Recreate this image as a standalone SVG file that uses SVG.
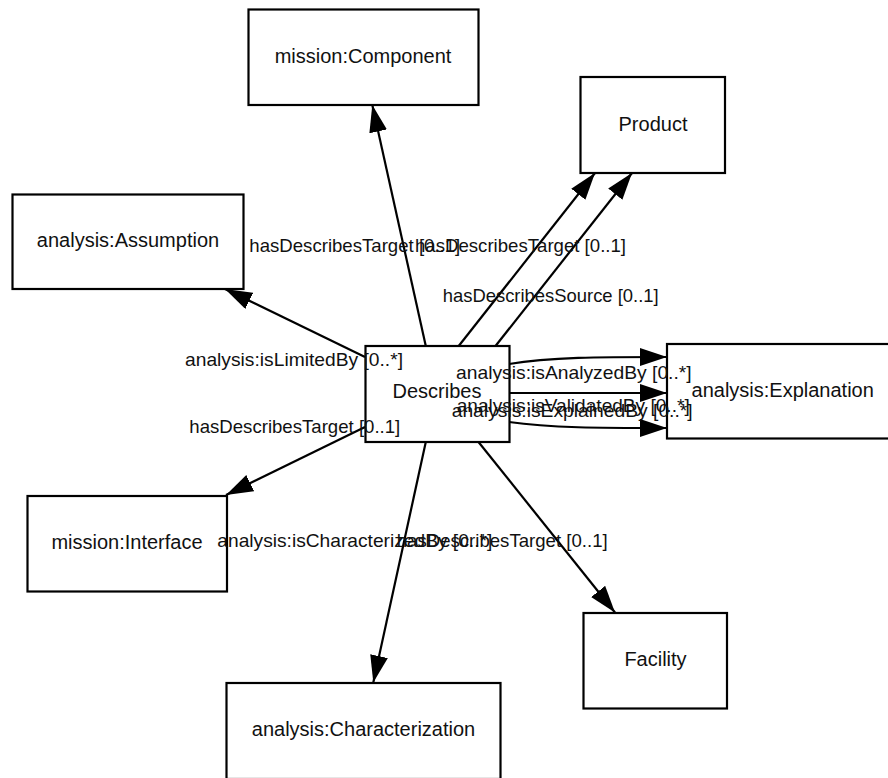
<svg xmlns="http://www.w3.org/2000/svg" width="888" height="778" viewBox="0 0 888 778">
<style>
.box{fill:#fff;stroke:#000;stroke-width:2.2}
.nl{font-family:"Liberation Sans",Arial,sans-serif;font-size:20px;fill:#111;text-anchor:middle}
.el{font-family:"Liberation Sans",Arial,sans-serif;font-size:19px;fill:#111}
.edge{fill:none;stroke:#000;stroke-width:2.2;marker-end:url(#arr)}
</style>
<defs>
<marker id="arr" markerUnits="userSpaceOnUse" viewBox="0 0 27 18" markerWidth="27" markerHeight="18" refX="27" refY="9" orient="auto">
<path d="M0,0 L27,9 L0,18 Z" fill="#000"/>
</marker>
</defs>
<rect width="888" height="778" fill="#fff"/>
<g id="connectors">
<path class="edge" d="M425.8,346 L372.3,105"/>
<path class="edge" d="M458.7,346 L595,173"/>
<path class="edge" d="M495.5,346 L632,173"/>
<path class="edge" d="M365,357 L225,289"/>
<path class="edge" d="M365,427 L226,495"/>
<path class="edge" d="M425.8,442 L373.3,682.5"/>
<path class="edge" d="M478.5,442 L615,612.5"/>
<path class="edge" d="M509,364 C550,357 600,357 667,357"/>
<path class="edge" d="M509,393 L667,393"/>
<path class="edge" d="M509,422 C550,428 600,428 667,428"/>
</g>
<g id="node-component"><rect class="box" x="248.5" y="9.5" width="230" height="95.5"/><text class="nl" x="363" y="62.7">mission:Component</text></g>
<g id="node-product"><rect class="box" x="580.5" y="77" width="144.5" height="96"/><text class="nl" x="653" y="130.5">Product</text></g>
<g id="node-assumption"><rect class="box" x="12.5" y="194.5" width="231" height="94.5"/><text class="nl" x="128" y="247">analysis:Assumption</text></g>
<g id="node-describes"><rect class="box" x="365.5" y="346" width="144" height="96"/><text class="nl" x="437" y="398.3">Describes</text></g>
<g id="node-explanation"><rect class="box" x="667" y="344" width="232" height="94.5"/><text class="nl" x="782.7" y="396.7">analysis:Explanation</text></g>
<g id="node-interface"><rect class="box" x="27.5" y="496" width="199.5" height="95.5"/><text class="nl" x="127" y="549">mission:Interface</text></g>
<g id="node-facility"><rect class="box" x="583.5" y="613" width="143.5" height="95.5"/><text class="nl" x="655.5" y="666">Facility</text></g>
<g id="node-characterization"><rect class="box" x="226.5" y="683" width="274" height="96"/><text class="nl" x="363.5" y="736">analysis:Characterization</text></g>
<g id="edge-labels">
<text class="el" x="249.3" y="252" textLength="211" lengthAdjust="spacingAndGlyphs">hasDescribesTarget [0..1]</text>
<text class="el" x="415" y="252" textLength="211" lengthAdjust="spacingAndGlyphs">hasDescribesTarget [0..1]</text>
<text class="el" x="442.7" y="301.7" textLength="216" lengthAdjust="spacingAndGlyphs">hasDescribesSource [0..1]</text>
<text class="el" x="185" y="365.7" textLength="218" lengthAdjust="spacingAndGlyphs">analysis:isLimitedBy [0..*]</text>
<text class="el" x="189.3" y="433" textLength="211" lengthAdjust="spacingAndGlyphs">hasDescribesTarget [0..1]</text>
<text class="el" x="456" y="379.3" textLength="235.7" lengthAdjust="spacingAndGlyphs">analysis:isAnalyzedBy [0..*]</text>
<text class="el" x="456.7" y="412.3" textLength="233" lengthAdjust="spacingAndGlyphs">analysis:isValidatedBy [0..*]</text>
<text class="el" x="451.7" y="416.7" textLength="241" lengthAdjust="spacingAndGlyphs">analysis:isExplainedBy [0..*]</text>
<text class="el" x="217.3" y="546.7" textLength="275" lengthAdjust="spacingAndGlyphs">analysis:isCharacterizedBy [0..*]</text>
<text class="el" x="396.7" y="546.7" textLength="211" lengthAdjust="spacingAndGlyphs">hasDescribesTarget [0..1]</text>
</g>
</svg>
